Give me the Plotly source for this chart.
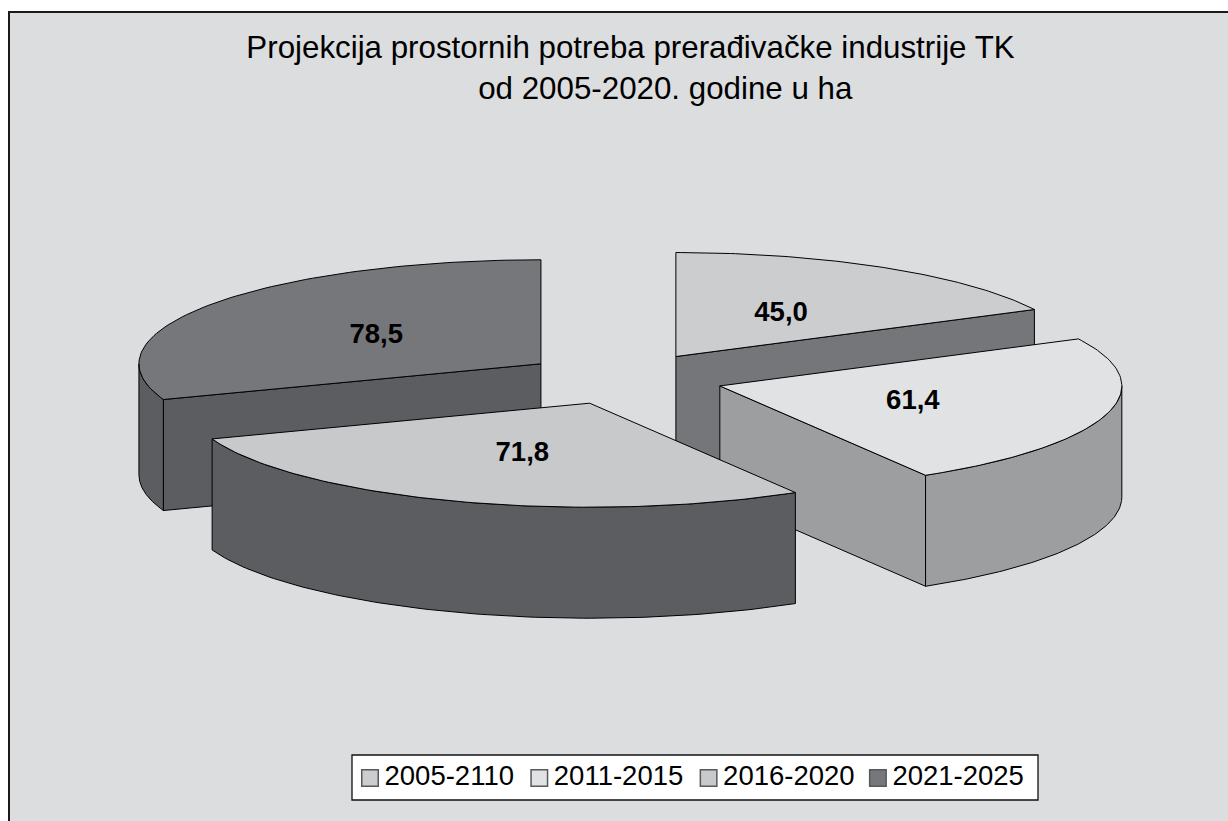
import numpy as np
import plotly.graph_objects as go

# data
periods = ["2005-2110", "2011-2015", "2016-2020", "2021-2025"]
values = [45.0, 61.4, 71.8, 78.5]
title_line_1 = "Projekcija prostornih potreba prerađivačke industrije TK"
title_line_2 = "od 2005-2020. godine u ha"

# styles
top_colors = ["#cccdcf", "#e1e2e4", "#c8c9cb", "#76777b"]
wall_colors = ["#75767a", "#9d9ea0", "#5c5d61", "#5c5d61"]
swatch_colors = ["#cccdcf", "#e1e2e4", "#c8c9cb", "#76777b"]
bg = "#dcdddf"
edge = "#000000"

# projection of the 3D pie, in page pixels
CX, CY, RX, RY, DEPTH, EXPLODE = 623.3, 378.7, 402.0, 104.0, 111.0, 0.25
LABEL_DY = 2.0
draw_order = [0, 3, 1, 2]

# legend box, in page pixels
BOX = (352, 755, 1038, 800)
SWATCH_X0, SWATCH_PITCH, SWATCH_Y, TEXT_GAP = 370, 169.3, 778, 14.5


def rim(apex, a, b, n=90):
    t = np.linspace(a, b, n)
    return apex[0] + RX * np.sin(t), apex[1] - RY * np.cos(t)


def poly(x, y, color):
    return go.Scatter(
        x=np.append(x, x[0]), y=np.append(y, y[0]), mode="lines", fill="toself",
        fillcolor=color, line=dict(color=edge, width=1), hoverinfo="skip",
        showlegend=False,
    )


total = sum(values)
edges = np.concatenate([[0], np.cumsum(values)]) / total * 2 * np.pi
fig = go.Figure()
label_x, label_y = [], []
geo = {}
for i in range(len(values)):
    a, b = edges[i], edges[i + 1]
    m = (a + b) / 2
    apex = (CX + EXPLODE * RX * np.sin(m), CY - EXPLODE * RY * np.cos(m))
    geo[i] = (a, b, apex)
    label_x.append(apex[0] + 0.5 * RX * np.sin(m))
    label_y.append(apex[1] - 0.5 * RY * np.cos(m) + LABEL_DY)

for i in draw_order:
    a, b, apex = geo[i]
    # radial cut faces turned to the viewer
    for ang, visible in ((a, np.sin(a) < -1e-6), (b, np.sin(b) > 1e-6)):
        if visible:
            ex = apex[0] + RX * np.sin(ang)
            ey = apex[1] - RY * np.cos(ang)
            fig.add_trace(poly(np.array([apex[0], ex, ex, apex[0]]),
                               np.array([apex[1], ey, ey + DEPTH, apex[1] + DEPTH]),
                               wall_colors[i]))
    # outer rim turned to the viewer
    lo, hi = max(a, np.pi / 2), min(b, 3 * np.pi / 2)
    if lo < hi:
        rx_, ry_ = rim(apex, lo, hi)
        fig.add_trace(poly(np.concatenate([rx_, rx_[::-1]]),
                           np.concatenate([ry_, ry_[::-1] + DEPTH]), wall_colors[i]))
    # top face
    tx, ty = rim(apex, a, b)
    fig.add_trace(poly(np.concatenate([[apex[0]], tx]),
                       np.concatenate([[apex[1]], ty]), top_colors[i]))

fig.add_trace(go.Scatter(
    x=label_x, y=label_y, mode="text",
    text=[f"{v:.1f}".replace(".", ",") for v in values],
    textposition="middle center",
    textfont=dict(family="Liberation Sans", size=27.5, color="#000000", weight="bold"),
    hoverinfo="skip", showlegend=False,
))

# legend row
for k, (p, c) in enumerate(zip(periods, swatch_colors)):
    sx = SWATCH_X0 + k * SWATCH_PITCH
    fig.add_trace(go.Scatter(
        x=[sx], y=[SWATCH_Y], mode="markers", name=p, hoverinfo="skip", showlegend=False,
        marker=dict(symbol="square", size=16.5, color=c, line=dict(color="#58595b", width=1.5)),
    ))
    fig.add_trace(go.Scatter(
        x=[sx + TEXT_GAP], y=[SWATCH_Y], mode="text", text=[p], textposition="middle right",
        textfont=dict(family="Liberation Sans", size=27.5, color="#000000"),
        hoverinfo="skip", showlegend=False,
    ))

W, H, L, T = 1228, 821, 10, 13
fig.add_shape(type="rect", x0=BOX[0], y0=BOX[1], x1=BOX[2], y1=BOX[3], layer="between",
              fillcolor="#ffffff", line=dict(color="#111111", width=1.3))
fig.update_layout(
    width=W, height=H, margin=dict(l=L, t=T, r=0, b=0, pad=0),
    paper_bgcolor="#ffffff", plot_bgcolor=bg, showlegend=False,
    font=dict(family="Liberation Sans", color="#000000"),
    title=dict(
        text=title_line_1 + "<br>" + "\u00a0" * 8 + title_line_2,
        font=dict(family="Liberation Sans", size=31.3, color="#000000"),
        x=630.5 / W, xanchor="center", y=1 - 58 / H, yanchor="top",
    ),
    xaxis=dict(range=[L, W], showgrid=False, zeroline=False, showticklabels=False, side="top",
               ticks="", showline=True, linecolor="#1a1a1a", linewidth=1.5),
    yaxis=dict(range=[H, T], showgrid=False, zeroline=False, showticklabels=False,
               ticks="", showline=True, linecolor="#1a1a1a", linewidth=1.5),
)
fig.write_html("out.html", config=dict(displayModeBar=False),
               post_script="document.body.style.margin='0';")
